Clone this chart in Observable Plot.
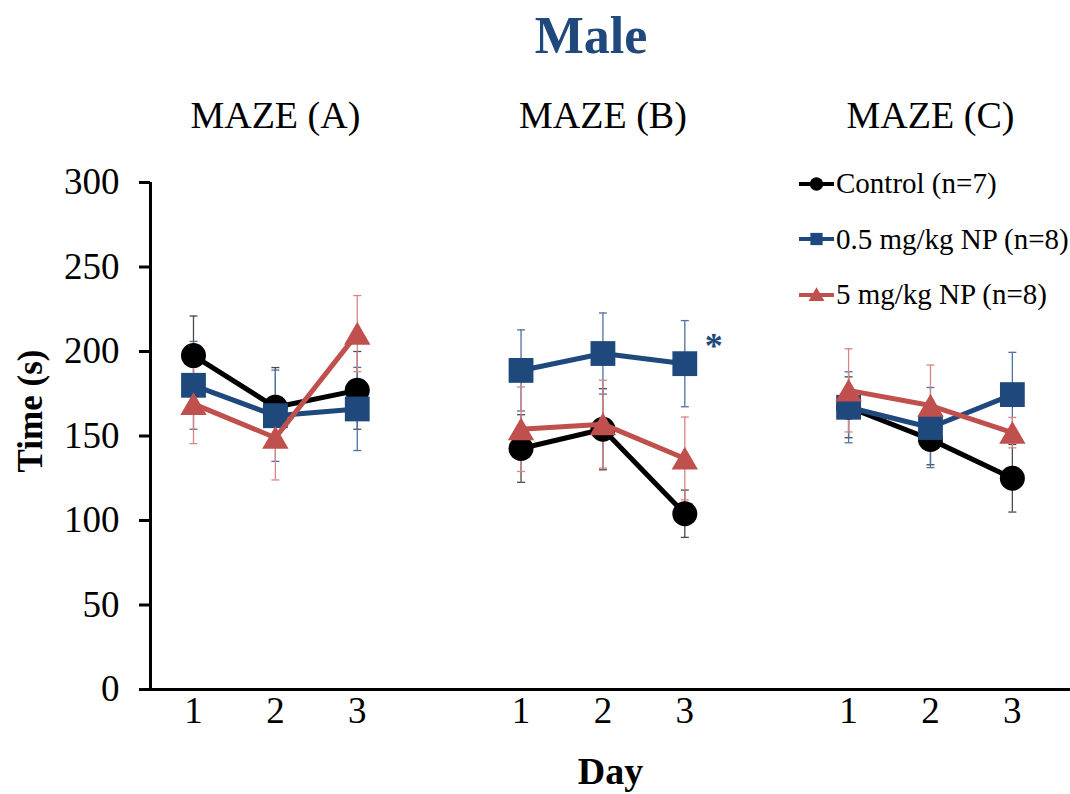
<!DOCTYPE html>
<html>
<head>
<meta charset="utf-8">
<script src="https://cdn.jsdelivr.net/npm/d3@7"></script>
<script src="https://cdn.jsdelivr.net/npm/@observablehq/plot@0.6"></script>
<style>
  html, body { margin: 0; padding: 0; background: #fff; }
  #wrap { position: relative; width: 1070px; height: 794px; overflow: hidden; font-family: "Liberation Serif", "Times New Roman", serif; }
  #title { height: 75px; line-height: 71px; padding-left: 112px; text-align: center; font-size: 52px; font-weight: bold; color: #1F497D; }
  #legend { position: absolute; left: 798px; top: 156px; font-size: 29px; color: #000; }
  #legend .row { display: flex; align-items: center; height: 55.5px; white-space: nowrap; }
  #legend svg { display: block; margin-right: 1px; }
</style>
</head>
<body>
<div id="wrap">
  <div id="title">Male</div>
  <div id="chart"></div>
  <div id="legend"></div>
</div>
<script>
// Groups, days and the three treatment series
const mazes = ["MAZE (A)", "MAZE (B)", "MAZE (C)"];
const days = [1, 2, 3];
const series = ["Control (n=7)", "0.5 mg/kg NP (n=8)", "5 mg/kg NP (n=8)"];
const yTicks = [0, 50, 100, 150, 200, 250, 300];

// Mean time (s), ordered A1 A2 A3, B1 B2 B3, C1 C2 C3
const controlMean = [197.6, 167, 177, 142.6, 154, 104, 167, 148, 125];
const controlErr  = [23.4, 23.5, 23, 20, 24, 14, 18, 15, 20];
const lowDoseMean = [180, 162, 166, 188.8, 198.8, 192.8, 167, 155, 174.5];
const lowDoseErr  = [26, 27, 24.6, 24, 24, 25.5, 21, 23.7, 25];
const highDoseMean = [169, 149, 210.6, 154, 157, 136.7, 177, 168, 152];
const highDoseErr  = [23.5, 25, 22.5, 25, 26, 24.5, 24.6, 24, 9];

// Series styling
const lineColors = ["#000000", "#1F497D", "#C0504D"];
const errColors = ["#4a4a4a", "#4f71a3", "#d98583"];
const symbols = ["circle", "square", "triangle"];
const symbolR = [12.5, 14, 9.8];
const symbolDy = [0, 0, 3.5];

const means = [controlMean, lowDoseMean, highDoseMean];
const errs = [controlErr, lowDoseErr, highDoseErr];

// Each maze occupies three day slots, with a one-slot gap between mazes
const rows = [];
series.forEach((s, si) => {
  mazes.forEach((m, mi) => {
    days.forEach((d, di) => {
      const k = mi * 3 + di;
      const mean = means[si][k], err = errs[si][k];
      rows.push({series: s, si, maze: m, day: d, pos: mi * 4 + d, mean, err, lo: mean - err, hi: mean + err});
    });
  });
});
const tickPositions = rows.filter(r => r.si === 0).map(r => r.pos);
const dayOf = new Map(rows.map(r => [r.pos, r.day]));

// Short horizontal stroke used as the error-bar cap
const cap = {
  draw(context, size) {
    const w = Math.sqrt(size / Math.PI);
    context.moveTo(-w, 0);
    context.lineTo(w, 0);
  }
};

const marks = [];
series.forEach((s, si) => {
  const data = rows.filter(r => r.si === si);
  marks.push(
    Plot.ruleX(data, {x: "pos", y1: "lo", y2: "hi", stroke: errColors[si], strokeWidth: 1.3}),
    Plot.dot(data, {x: "pos", y: "lo", symbol: cap, r: 4, stroke: errColors[si], strokeWidth: 1.3, fill: "none"}),
    Plot.dot(data, {x: "pos", y: "hi", symbol: cap, r: 4, stroke: errColors[si], strokeWidth: 1.3, fill: "none"})
  );
});
series.forEach((s, si) => {
  const data = rows.filter(r => r.si === si);
  marks.push(
    Plot.line(data, {x: "pos", y: "mean", z: "maze", stroke: lineColors[si], strokeWidth: 5, curve: "linear"}),
    Plot.dot(data, {x: "pos", y: "mean", symbol: symbols[si], r: symbolR[si], fill: lineColors[si], stroke: "none", dy: symbolDy[si]})
  );
});

const chart = Plot.plot({
  width: 1070,
  height: 719,
  marginTop: 107,
  marginBottom: 105,
  marginLeft: 150,
  marginRight: 0,
  style: {fontFamily: "Liberation Serif, Times New Roman, serif", fontSize: "37px", color: "#000", background: "#fff", overflow: "visible"},
  x: {domain: [0.475, 11.71]},
  y: {domain: [0, 300]},
  marks: [
    ...marks,
    // significance marker beside the 0.5 mg/kg series on MAZE (B) day 3
    Plot.text(rows.filter(r => r.si === 1 && r.maze === "MAZE (B)" && r.day === 3),
      {x: "pos", y: "mean", text: () => "*", dx: 29, dy: -17, fill: "#1F497D", fontSize: 36, fontWeight: "bold"}),
    // axes
    Plot.ruleX([0.475], {stroke: "#000", strokeWidth: 3}),
    Plot.ruleY([0], {stroke: "#000", strokeWidth: 3}),
    Plot.axisY({ticks: yTicks, tickSize: 11, tickPadding: 20, strokeWidth: 3, label: null, tickFormat: d => d}),
    Plot.axisX(tickPositions, {tickSize: 0, tickPadding: 7, label: null, tickFormat: d => dayOf.get(d)}),
    // panel titles
    Plot.text(mazes, {x: (d, i) => i * 4 + 2, frameAnchor: "top", lineAnchor: "middle", textAnchor: "middle", dy: -67, fontSize: 38, text: d => d}),
    // axis titles
    Plot.text(["Time (s)"], {frameAnchor: "left", textAnchor: "middle", lineAnchor: "middle", dx: -120, dy: -25, rotate: -90, fontSize: 35, fontWeight: "bold", text: d => d}),
    Plot.text(["Day"], {frameAnchor: "bottom", textAnchor: "middle", lineAnchor: "middle", dx: 0, dy: 82, fontSize: 38, fontWeight: "bold", text: d => d})
  ]
});
document.getElementById("chart").appendChild(chart);

// Legend: line-and-marker swatch followed by the series name
const legend = d3.select("#legend");
series.forEach((s, si) => {
  const row = legend.append("div").attr("class", "row");
  const svg = row.append("svg").attr("width", 37).attr("height", 20);
  svg.append("line").attr("x1", 1).attr("x2", 36).attr("y1", 10).attr("y2", 10)
    .attr("stroke", lineColors[si]).attr("stroke-width", 4);
  const sym = d3.symbol().type(si === 0 ? d3.symbolCircle : si === 1 ? d3.symbolSquare : d3.symbolTriangle)
    .size(si === 0 ? 140 : si === 1 ? 150 : 110);
  svg.append("path").attr("d", sym()).attr("transform", `translate(18.5,${si === 2 ? 11.5 : 10})`).attr("fill", lineColors[si]);
  row.append("span").text(s);
});
</script>
</body>
</html>
